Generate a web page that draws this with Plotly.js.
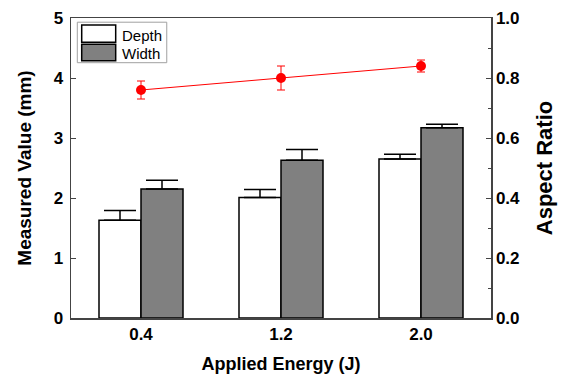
<!DOCTYPE html>
<html>
<head>
<meta charset="utf-8">
<script src="https://cdn.plot.ly/plotly-3.0.1.min.js"></script>
<style>html,body{margin:0;padding:0;background:#fff;}#chart{width:562px;height:374px;}</style>
</head>
<body>
<div id="chart"></div>
<script>
const categories = ["0.4", "1.2", "2.0"];
const seriesNames = ["Depth", "Width"];
const depth = [1.63, 2.01, 2.65];
const depthErr = [0.16, 0.13, 0.08];
const width = [2.15, 2.63, 3.17];
const widthErr = [0.145, 0.18, 0.06];
const aspectRatio = [0.76, 0.80, 0.84];
const aspectErr = [0.03, 0.04, 0.02];

const FONT = "Liberation Sans, Arial, sans-serif";
const barColors = ["#ffffff", "#808080"];

const traces = [
  {
    type: "bar", name: seriesNames[0], x: categories, y: depth, showlegend: false,
    marker: {color: barColors[0], line: {color: "#000000", width: 1.5}},
    error_y: {type: "data", array: depthErr, symmetric: false, arrayminus: [0,0,0], color: "#000000", thickness: 1.5, width: 16}
  },
  {
    type: "bar", name: seriesNames[1], x: categories, y: width, showlegend: false,
    marker: {color: barColors[1], line: {color: "#000000", width: 1.5}},
    error_y: {type: "data", array: widthErr, symmetric: false, arrayminus: [0,0,0], color: "#000000", thickness: 1.5, width: 16}
  },
  {
    type: "scatter", mode: "lines+markers", name: "Aspect Ratio", x: categories, y: aspectRatio,
    yaxis: "y2", showlegend: false,
    line: {color: "#ff0000", width: 1},
    marker: {color: "#ff0000", size: 10},
    error_y: {type: "data", array: aspectErr, color: "#ff0000", thickness: 1, width: 4}
  }
];

// hand-drawn legend (large swatches like the original)
const shapes = [
  {type: "rect", xref: "paper", yref: "paper", x0: 0.015, x1: 0.228, y0: 0.851, y1: 0.986,
   line: {color: "#a0a0a0", width: 1}, fillcolor: "#ffffff", layer: "above"},
  {type: "rect", xref: "paper", yref: "paper", x0: 0.0255, x1: 0.1064, y0: 0.919, y1: 0.9767,
   line: {color: "#000000", width: 1.5}, fillcolor: barColors[0], layer: "above"},
  {type: "rect", xref: "paper", yref: "paper", x0: 0.0255, x1: 0.1064, y0: 0.8577, y1: 0.9123,
   line: {color: "#000000", width: 1.5}, fillcolor: barColors[1], layer: "above"}
];
const annotations = [
  {xref: "paper", yref: "paper", x: 0.1167, y: 0.941, xanchor: "left", yanchor: "middle", showarrow: false,
   text: seriesNames[0], font: {family: FONT, size: 15, color: "#000000"}},
  {xref: "paper", yref: "paper", x: 0.1167, y: 0.8823, xanchor: "left", yanchor: "middle", showarrow: false,
   text: seriesNames[1], font: {family: FONT, size: 15, color: "#000000"}}
];

const tickFont = {family: FONT, size: 17, color: "#000000", weight: "bold"};

const layout = {
  width: 562, height: 374,
  margin: {l: 71, r: 71, t: 18, b: 56},
  paper_bgcolor: "#ffffff", plot_bgcolor: "#ffffff",
  font: {family: FONT, color: "#000000"},
  barmode: "group", bargap: 0.4, bargroupgap: 0,
  showlegend: false,
  shapes: shapes,
  annotations: annotations,
  xaxis: {
    type: "category", range: [-0.5, 2.5],
    showline: true, linecolor: "#444444", linewidth: 1.5, mirror: true,
    ticks: "", showgrid: false, zeroline: false,
    tickfont: tickFont,
    title: {text: "Applied Energy (J)", font: {family: FONT, size: 18, color: "#000000", weight: "bold"}, standoff: 14}
  },
  yaxis: {
    range: [0, 5], dtick: 1,
    showline: true, linecolor: "#444444", linewidth: 1.5, mirror: false,
    ticks: "inside", ticklen: 5, tickcolor: "#444444", tickwidth: 1,
    ticklabelstandoff: 3,
    showgrid: false, zeroline: false,
    tickfont: tickFont,
    title: {text: "Measured Value (mm)", font: {family: FONT, size: 19, color: "#000000", weight: "bold"}, standoff: 17}
  },
  yaxis2: {
    range: [0, 1], dtick: 0.2, tickformat: ".1f",
    overlaying: "y", side: "right",
    showline: true, linecolor: "#444444", linewidth: 1.5,
    ticks: "inside", ticklen: 5, tickcolor: "#444444", tickwidth: 1,
    minor: {dtick: 0.1, ticks: "inside", ticklen: 3, tickcolor: "#444444"},
    showgrid: false, zeroline: false,
    tickfont: tickFont,
    title: {text: "Aspect Ratio", font: {family: FONT, size: 22, color: "#000000", weight: "bold"}, standoff: 17}
  }
};

Plotly.newPlot("chart", traces, layout, {displayModeBar: false, staticPlot: true});
</script>
</body>
</html>
